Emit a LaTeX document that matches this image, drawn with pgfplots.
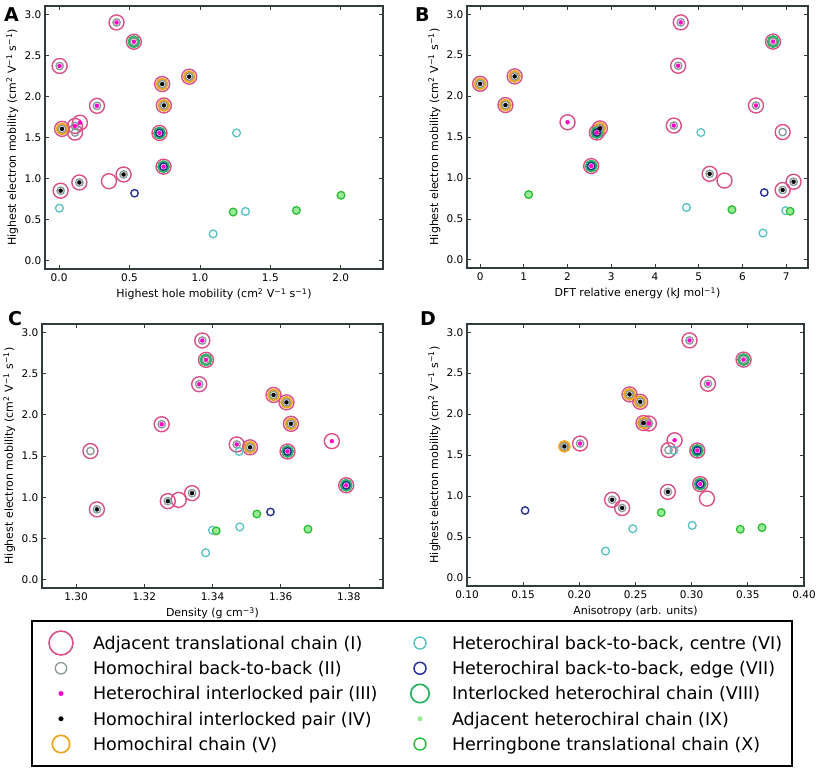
\documentclass[border=0pt]{standalone}
\usepackage{fontspec}
\setmainfont{DejaVu Sans}
\usepackage{pgfplots}
\pgfplotsset{compat=1.18}
\usepackage{pgfplotstable}

\definecolor{pinkc}{RGB}{218,80,135}
\definecolor{greyc}{RGB}{140,150,150}
\definecolor{magc}{RGB}{255,0,200}
\definecolor{orangec}{RGB}{240,165,30}
\definecolor{tealc}{RGB}{85,195,195}
\definecolor{bluec}{RGB}{40,50,150}
\definecolor{viiic}{RGB}{40,180,100}
\definecolor{ixc}{RGB}{150,235,150}
\definecolor{haloc}{RGB}{245,245,190}
\definecolor{xc}{RGB}{40,190,60}
\definecolor{framec}{RGB}{50,60,60}

\newcommand\tickfont{\fontsize{10.5}{12}\selectfont}
\newcommand\labfont{\fontsize{11}{13}\selectfont}
\newcommand\legfont{\fontsize{17.5}{20}\selectfont}

\pgfplotsset{
  panel/.style={
    scale only axis, anchor=south west, clip=false,
    unbounded coords=discard,
    ymin=-0.1, ymax=3.1, ytick={0,0.5,1,1.5,2,2.5,3},
    yticklabel style={/pgf/number format/fixed, /pgf/number format/fixed zerofill, /pgf/number format/precision=1},
    tick align=inside, tick pos=both,
    major tick length=4pt,
    axis line style={draw=framec, line width=1.1pt},
    every tick/.style={draw=framec, line width=0.7pt},
    tick label style={font=\tickfont, text=black},
    /pgf/number format/assume math mode=true,
    every axis x label/.style={at={(axis description cs:0.5,0)}, anchor=base, yshift=-29pt, font=\labfont},
    every axis y label/.style={at={(axis description cs:0,0.5)}, rotate=90, anchor=base, yshift=29pt, font=\labfont},
    ylabel={Highest electron mobility (cm\textsuperscript{2} V\textsuperscript{−1} s\textsuperscript{−1})},
    xticklabel style={inner sep=0pt, yshift=-4.5pt},
    yticklabel style={inner sep=0pt, xshift=-3.5pt},
  },
  legax/.style={
    at={(0pt,0pt)}, anchor=south west, scale only axis, width=817pt, height=769pt,
    hide axis, xmin=0, xmax=1, ymin=0, ymax=1,
    legend image code/.code={\path[draw=none, fill=none] (-16pt,-12.6pt) rectangle (16pt,12.6pt); \draw[##1] plot coordinates {(0pt,0pt)};},
    legend cell align=left,
    legend style={anchor=north west, draw=none, fill=none, inner sep=0pt, outer sep=0pt,
      row sep=0pt, font=\legfont, nodes={inner sep=0pt, text height=19pt, text depth=6.25pt},
      /tikz/every odd column/.append style={column sep=16pt}},
  },
  sI/.style={only marks, mark=o, mark size=7.5pt, mark options={draw=pinkc, line width=1.4pt}},
  sII/.style={only marks, mark=o, mark size=3.7pt, mark options={draw=greyc, line width=1.3pt}},
  sIII/.style={only marks, mark=*, mark size=2pt, mark options={draw=magc, fill=magc, line width=0.3pt}},
  sIV/.style={only marks, mark=*, mark size=2pt, mark options={draw=black, fill=black, line width=0.3pt}},
  sV/.style={only marks, mark=o, mark size=5.3pt, mark options={draw=orangec, line width=2.1pt}},
  sVI/.style={only marks, mark=o, mark size=3.9pt, mark options={draw=tealc, line width=1.3pt}},
  sVII/.style={only marks, mark=o, mark size=3.7pt, mark options={draw=bluec, line width=1.4pt}},
  sVIII/.style={only marks, mark=o, mark size=5.3pt, mark options={draw=viiic, line width=2.3pt}},
  sIX/.style={only marks, mark=*, mark size=4.0pt, mark options={draw=haloc, fill=ixc, line width=1.4pt}},
  sX/.style={only marks, mark=o, mark size=3.8pt, mark options={draw=xc, line width=1.3pt}},
}

% columns: hole mobility (A), DFT energy (B), density (C), anisotropy (D), electron mobility
\pgfplotstableread{
xa xb xc xd y
0.408 4.59 1.3370 0.2981 2.900
0.531 6.70 1.3381 0.3462 2.665
0.004 4.53 1.3361 0.3145 2.370
0.732 0.00 1.3617 0.2542 2.150
0.924 0.79 1.3579 0.2447 2.240
0.269 6.31 1.3251 0.2619 1.885
0.744 0.58 1.3630 0.2571 1.890
0.021 2.74 1.3510 nan 1.605
0.113 4.43 1.3471 0.2007 1.640
0.148 2.00 1.3750 0.2848 1.680
0.113 6.92 1.3042 0.2794 1.560
0.713 2.67 1.3620 0.3050 1.555
0.742 2.54 1.3792 0.3076 1.145
0.458 5.25 1.3340 0.2788 1.050
0.144 7.17 1.3269 0.2292 0.953
0.354 5.59 1.3301 0.3136 0.968
0.011 6.92 1.3061 0.2381 0.853
}\tI
\pgfplotstableread{
xa xb xc xd y
0.408 4.59 1.3370 0.2981 2.900
0.531 6.70 1.3381 0.3462 2.665
0.004 4.53 1.3361 0.3145 2.370
0.732 0.00 1.3617 0.2542 2.150
0.924 0.79 1.3579 0.2447 2.240
0.269 6.31 1.3251 0.2619 1.885
0.744 0.58 1.3630 0.2571 1.890
0.021 2.74 1.3510 0.1867 1.605
0.113 4.43 1.3471 0.2007 1.640
0.113 6.92 1.3042 0.2794 1.560
0.458 5.25 1.3340 0.2788 1.050
0.144 7.17 1.3269 0.2292 0.953
0.011 6.92 1.3061 0.2381 0.853
}\tII
\pgfplotstableread{
xa xb xc xd y
0.408 4.59 1.3370 0.2981 2.900
0.531 6.70 1.3381 0.3462 2.665
0.004 4.53 1.3361 0.3145 2.370
0.269 6.31 1.3251 0.2619 1.885
0.113 4.43 1.3471 0.2007 1.640
0.148 2.00 1.3750 0.2848 1.680
0.713 2.67 1.3620 0.3050 1.555
0.742 2.54 1.3792 0.3076 1.145
}\tIII
\pgfplotstableread{
xa xb xc xd y
0.732 0.00 1.3617 0.2542 2.150
0.924 0.79 1.3579 0.2447 2.240
0.744 0.58 1.3630 0.2571 1.890
0.021 2.74 1.3510 0.1867 1.605
0.458 5.25 1.3340 0.2788 1.050
0.144 7.17 1.3269 0.2292 0.953
0.011 6.92 1.3061 0.2381 0.853
}\tIV
\pgfplotstableread{
xa xb xc xd y
0.732 0.00 1.3617 0.2542 2.150
0.924 0.79 1.3579 0.2447 2.240
0.744 0.58 1.3630 0.2571 1.890
0.021 2.74 1.3510 0.1867 1.605
}\tV
\pgfplotstableread{
xa xb xc xd y
1.260 5.05 1.3478 0.2842 1.555
0.002 4.72 1.3480 0.3005 0.640
1.323 6.99 1.3400 0.2476 0.600
1.094 6.47 1.3380 0.2233 0.327
}\tVI
\pgfplotstableread{
xa xb xc xd y
0.713 2.67 1.3620 0.3050 1.555
0.742 2.54 1.3792 0.3076 1.145
0.536 6.50 1.3570 0.1517 0.822
}\tVII
\pgfplotstableread{
xa xb xc xd y
0.531 6.70 1.3381 0.3462 2.665
0.713 2.67 1.3620 0.3050 1.555
0.742 2.54 1.3792 0.3076 1.145
}\tVIII
\pgfplotstableread{
xa xb xc xd y
1.236 7.09 1.3411 0.3433 0.593
1.685 5.76 1.3680 0.3626 0.613
2.002 1.11 1.3530 0.2729 0.797
}\tIX
\pgfplotstableread{
xa xb xc xd y
1.236 7.09 1.3411 0.3433 0.593
1.685 5.76 1.3680 0.3626 0.613
2.002 1.11 1.3530 0.2729 0.797
}\tX

\newcommand{\panelplots}[1]{%
  \addplot[sI] table[x=#1,y=y]{\tI};
  \addplot[sV] table[x=#1,y=y]{\tV};
  \addplot[sVIII] table[x=#1,y=y]{\tVIII};
  \addplot[sII] table[x=#1,y=y]{\tII};
  \addplot[sVI] table[x=#1,y=y]{\tVI};
  \addplot[sVII] table[x=#1,y=y]{\tVII};
  \addplot[sIX] table[x=#1,y=y]{\tIX};
  \addplot[sX] table[x=#1,y=y]{\tX};
  \addplot[sIII] table[x=#1,y=y]{\tIII};
  \addplot[sIV] table[x=#1,y=y]{\tIV};
}

\begin{document}
\begin{tikzpicture}
\useasboundingbox (0pt,0pt) rectangle (817pt,769pt);

% Panel A
\begin{axis}[panel, at={(45pt,500pt)}, width=338pt, height=263pt,
  xmin=-0.1, xmax=2.3, xtick={0,0.5,1,1.5,2},
  xticklabel style={/pgf/number format/fixed, /pgf/number format/fixed zerofill, /pgf/number format/precision=1},
  xlabel={Highest hole mobility (cm\textsuperscript{2} V\textsuperscript{−1} s\textsuperscript{−1})}]
\panelplots{xa}
\end{axis}

% Panel B
\begin{axis}[panel, at={(467pt,501pt)}, width=341pt, height=262pt,
  xmin=-0.3, xmax=7.5, xtick={0,1,2,3,4,5,6,7},
  xlabel={DFT relative energy (kJ mol\textsuperscript{−1})}]
\panelplots{xb}
\end{axis}

% Panel C
\begin{axis}[panel, at={(42pt,181pt)}, width=341pt, height=264pt,
  xmin=1.29, xmax=1.39, xtick={1.30,1.32,1.34,1.36,1.38},
  xticklabel style={/pgf/number format/fixed, /pgf/number format/fixed zerofill, /pgf/number format/precision=2},
  xlabel={Density (g cm\textsuperscript{−3})}]
\panelplots{xc}
\end{axis}

% Panel D
\begin{axis}[panel, at={(467pt,183pt)}, width=337pt, height=262pt,
  xmin=0.1, xmax=0.4, xtick={0.10,0.15,0.20,0.25,0.30,0.35,0.40},
  xticklabel style={/pgf/number format/fixed, /pgf/number format/fixed zerofill, /pgf/number format/precision=2},
  xlabel={Anisotropy (arb. units)}]
\panelplots{xd}
\end{axis}

% Panel letters
\node[anchor=base west, inner sep=0pt, font=\fontsize{19}{19}\selectfont\bfseries] at (4pt,747pt) {A};
\node[anchor=base west, inner sep=0pt, font=\fontsize{19}{19}\selectfont\bfseries] at (415pt,747pt) {B};
\node[anchor=base west, inner sep=0pt, font=\fontsize{19}{19}\selectfont\bfseries] at (8pt,443pt) {C};
\node[anchor=base west, inner sep=0pt, font=\fontsize{19}{19}\selectfont\bfseries] at (420pt,443pt) {D};

% Legend frame
\draw[line width=1.3pt, black] (32pt,148pt) rectangle (792pt,3pt);

% Legend, left column
\begin{axis}[legax, legend style={at={(0.05508,0.18023)}}]
\addlegendimage{mark=o, mark size=12pt, mark options={draw=pinkc, line width=1.6pt}}
\addlegendentry{Adjacent translational chain (I)}
\addlegendimage{mark=o, mark size=5.7pt, mark options={draw=greyc, line width=1.3pt}}
\addlegendentry{Homochiral back-to-back (II)}
\addlegendimage{mark=*, mark size=2.3pt, mark options={draw=magc, fill=magc, line width=0.3pt}}
\addlegendentry{Heterochiral interlocked pair (III)}
\addlegendimage{mark=*, mark size=2.3pt, mark options={draw=black, fill=black, line width=0.3pt}}
\addlegendentry{Homochiral interlocked pair (IV)}
\addlegendimage{mark=o, mark size=8.7pt, mark options={draw=orangec, line width=1.7pt}}
\addlegendentry{Homochiral chain (V)}
\end{axis}

% Legend, right column
\begin{axis}[legax, legend style={at={(0.49449,0.18023)}}]
\addlegendimage{mark=o, mark size=6pt, mark options={draw=tealc, line width=1.4pt}}
\addlegendentry{Heterochiral back-to-back, centre (VI)}
\addlegendimage{mark=o, mark size=6pt, mark options={draw=bluec, line width=1.5pt}}
\addlegendentry{Heterochiral back-to-back, edge (VII)}
\addlegendimage{mark=o, mark size=9.2pt, mark options={draw=viiic, line width=1.7pt}}
\addlegendentry{Interlocked heterochiral chain (VIII)}
\addlegendimage{mark=*, mark size=2.3pt, mark options={draw=ixc, fill=ixc, line width=0.3pt}}
\addlegendentry{Adjacent heterochiral chain (IX)}
\addlegendimage{mark=o, mark size=6pt, mark options={draw=xc, line width=1.4pt}}
\addlegendentry{Herringbone translational chain (X)}
\end{axis}
\end{tikzpicture}
\end{document}
